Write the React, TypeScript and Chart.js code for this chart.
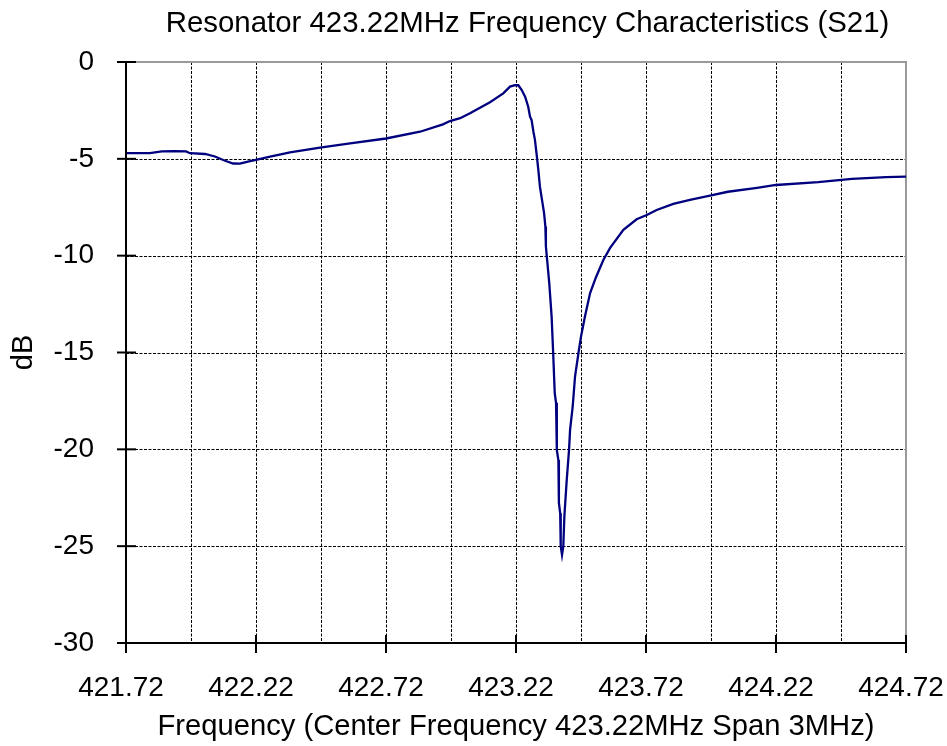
import React, { useEffect, useRef } from 'react';
import { Chart, registerables } from 'chart.js';

Chart.register(...registerables);

const FONT = '"Liberation Sans", Arial, Helvetica, sans-serif';

const chartTitle = 'Resonator 423.22MHz Frequency Characteristics (S21)';
const xAxisTitle = 'Frequency (Center Frequency 423.22MHz Span 3MHz)';
const yAxisTitle = 'dB';

// Measured S21 trace (frequency in MHz, level in dB)
const frequencyMHz = [
  421.72, 421.812, 421.858, 421.908, 421.951, 421.966, 422.024, 422.062, 422.101, 422.132,
  422.158, 422.189, 422.224, 422.274, 422.351, 422.466, 422.582, 422.72, 422.851, 422.939,
  422.966, 423.005, 423.043, 423.12, 423.171, 423.197, 423.216, 423.229, 423.242, 423.255,
  423.267, 423.274, 423.28, 423.287, 423.293, 423.301, 423.306, 423.312, 423.32, 423.328,
  423.333, 423.335, 423.348, 423.357, 423.363, 423.369, 423.374, 423.377, 423.383, 423.385,
  423.39, 423.392, 423.397, 423.402, 423.406, 423.415, 423.424, 423.428, 423.438, 423.447,
  423.462, 423.47, 423.485, 423.505, 423.528, 423.556, 423.582, 423.633, 423.684, 423.723,
  423.761, 423.825, 423.889, 423.966, 424.035, 424.147, 424.22, 424.382, 424.512, 424.643,
  424.72,
];
const s21dB = [
  -4.71, -4.71, -4.62, -4.6, -4.62, -4.71, -4.75, -4.88, -5.1, -5.24,
  -5.25, -5.15, -5.04, -4.89, -4.67, -4.42, -4.2, -3.95, -3.6, -3.22,
  -3.05, -2.9, -2.65, -2.08, -1.62, -1.27, -1.19, -1.2, -1.45, -1.79,
  -2.31, -2.82, -3.0, -3.6, -4.03, -4.96, -5.58, -6.44, -7.12, -7.8,
  -8.5, -9.53, -11.43, -13.15, -15.04, -17.1, -17.6, -20.03, -20.55, -22.77,
  -23.3, -25.0, -25.45, -25.0, -23.47, -21.6, -20.03, -19.0, -17.8, -16.25,
  -14.87, -14.18, -13.15, -11.93, -11.1, -10.22, -9.6, -8.67, -8.12, -7.9,
  -7.64, -7.33, -7.12, -6.9, -6.7, -6.5, -6.35, -6.2, -6.04, -5.94,
  -5.92,
];

const xMin = 421.72;
const xMax = 424.72;
const xTickValues = [421.72, 422.22, 422.72, 423.22, 423.72, 424.22, 424.72];
const xTickLabels = ['421.72', '422.22', '422.72', '423.22', '423.72', '424.22', '424.72'];
const xGridValues = [
  421.97, 422.22, 422.47, 422.72, 422.97, 423.22, 423.47, 423.72, 423.97, 424.22, 424.47,
];
const yMin = -30;
const yMax = 0;
const yTickValues = [-30, -25, -20, -15, -10, -5, 0];
const yTickLabels = ['-30', '-25', '-20', '-15', '-10', '-5', '0'];

const framePlugin = {
  id: 'frame',
  beforeDatasetsDraw(chart: any) {
    const { ctx, chartArea } = chart;
    const { left, right, top, bottom } = chartArea;
    const xs = chart.scales.x;
    const ys = chart.scales.y;
    ctx.save();
    ctx.strokeStyle = '#000000';
    ctx.lineWidth = 1;
    ctx.setLineDash([3, 1.5]);
    for (const v of xGridValues) {
      const px = Math.round(xs.getPixelForValue(v)) + 0.5;
      ctx.beginPath();
      ctx.moveTo(px, top);
      ctx.lineTo(px, bottom);
      ctx.stroke();
    }
    for (const v of yTickValues) {
      if (v === yMin || v === yMax) continue;
      const py = Math.round(ys.getPixelForValue(v)) + 0.5;
      ctx.beginPath();
      ctx.moveTo(left, py);
      ctx.lineTo(right, py);
      ctx.stroke();
    }
    ctx.setLineDash([]);
    ctx.strokeStyle = '#9a9a9a';
    ctx.lineWidth = 2;
    ctx.beginPath();
    ctx.moveTo(left, top);
    ctx.lineTo(right, top);
    ctx.lineTo(right, bottom);
    ctx.stroke();
    ctx.restore();
  },
  afterDatasetsDraw(chart: any) {
    const { ctx, chartArea } = chart;
    const { left, right, top, bottom } = chartArea;
    const xs = chart.scales.x;
    const ys = chart.scales.y;
    ctx.save();
    ctx.strokeStyle = '#000000';
    ctx.lineWidth = 2;
    ctx.beginPath();
    ctx.moveTo(left, top);
    ctx.lineTo(left, bottom);
    ctx.lineTo(right, bottom);
    ctx.stroke();
    for (const v of yTickValues) {
      const py = ys.getPixelForValue(v);
      ctx.beginPath();
      ctx.moveTo(left - 9, py);
      ctx.lineTo(left + 10, py);
      ctx.stroke();
    }
    for (const v of xTickValues) {
      const px = xs.getPixelForValue(v);
      ctx.beginPath();
      ctx.moveTo(px, bottom - 8);
      ctx.lineTo(px, bottom + 10);
      ctx.stroke();
    }
    ctx.fillStyle = '#000000';
    ctx.font = `29.4px ${FONT}`;
    ctx.textAlign = 'center';
    ctx.textBaseline = 'middle';
    ctx.fillText(chartTitle, 527.5, 24);
    ctx.restore();
  },
};

export default function App() {
  const canvasRef = useRef<HTMLCanvasElement | null>(null);

  useEffect(() => {
    if (!canvasRef.current) return;
    const chart = new Chart(canvasRef.current, {
      type: 'line',
      data: {
        datasets: [
          {
            label: 'S21',
            data: frequencyMHz.map((f, i) => ({ x: f, y: s21dB[i] })),
            borderColor: '#00007f',
            borderWidth: 2.3,
            pointRadius: 0,
            tension: 0,
            fill: false,
          },
        ],
      },
      options: {
        animation: false,
        responsive: false,
        maintainAspectRatio: false,
        layout: { padding: { left: 0, right: 41, top: 62, bottom: 0 } },
        plugins: {
          legend: { display: false },
          tooltip: { enabled: false },
          title: { display: false },
        },
        scales: {
          x: {
            type: 'linear',
            min: xMin,
            max: xMax,
            afterBuildTicks: (s: any) => {
              s.ticks = xTickValues.map((v) => ({ value: v }));
            },
            afterFit: (s: any) => {
              s.height = 103;
              s.paddingLeft = 0;
              s.paddingRight = 0;
            },
            grid: { display: false, drawTicks: false },
            border: { display: false },
            ticks: {
              autoSkip: false,
              maxRotation: 0,
              minRotation: 0,
              padding: 28,
              labelOffset: -5,
              color: '#000000',
              font: { family: FONT, size: 28 },
              callback: (_v: any, i: number) => xTickLabels[i],
            },
            title: {
              display: true,
              text: xAxisTitle,
              color: '#000000',
              font: { family: FONT, size: 29.2 },
              padding: { top: 0, bottom: 2 },
            },
          },
          y: {
            type: 'linear',
            min: yMin,
            max: yMax,
            afterBuildTicks: (s: any) => {
              s.ticks = yTickValues.map((v) => ({ value: v }));
            },
            afterFit: (s: any) => {
              s.width = 126;
            },
            grid: { display: false, drawTicks: false },
            border: { display: false },
            ticks: {
              padding: 32,
              color: '#000000',
              font: { family: FONT, size: 28 },
              callback: (_v: any, i: number) => yTickLabels[i],
            },
            title: {
              display: true,
              text: yAxisTitle,
              color: '#000000',
              font: { family: FONT, size: 29 },
              padding: { top: 6.6, bottom: 0 },
            },
          },
        },
      },
      plugins: [framePlugin],
    });
    return () => chart.destroy();
  }, []);

  return (
    <div style={{ position: 'absolute', left: 0, top: 0, width: 947, height: 746, background: '#ffffff' }}>
      <canvas ref={canvasRef} width={947} height={746} />
    </div>
  );
}
